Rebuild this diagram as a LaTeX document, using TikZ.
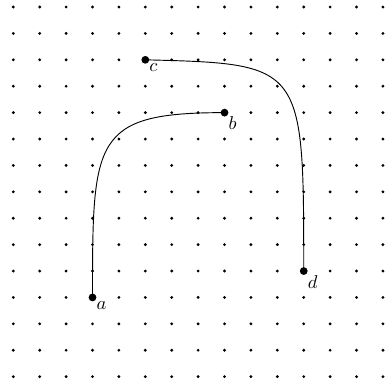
\documentclass[tikz,border=0pt]{standalone}
\begin{document}
\begin{tikzpicture}[
  griddot/.style={fill=black},
  bigdot/.style={circle,fill=black,inner sep=0pt,minimum size=4.2pt},
  lbl/.style={anchor=north west,inner sep=2pt},
  curve/.style={draw=black,line width=0.5pt}
]
\useasboundingbox (-0.252,0.133) rectangle (7.096,-7.178);
\foreach \i in {0,...,14}{
  \foreach \j in {0,...,14}{
    \fill[griddot] (\i*0.5,-\j*0.5) circle (0.85pt);
  }
}
\node[bigdot] (a) at (1.5,-5.5) {};
\node[bigdot] (b) at (4.0,-2.0) {};
\node[bigdot] (c) at (2.5,-1.0) {};
\node[bigdot] (d) at (5.5,-5.0) {};
\node[lbl] (la) at (a.center) {$a$};
\node[lbl] (lb) at (b.center) {$b$};
\node[lbl] (lc) at (c.center) {$c$};
\node[lbl] (ld) at (d.center) {$d$};
\draw[curve] (a.center) .. controls (1.5,-2.5) and (1.5,-2.0) .. (b.center);
\draw[curve] (c.center) .. controls (5.5,-1.076) and (5.5,-1.076) .. (d.center);
\end{tikzpicture}
\end{document}
